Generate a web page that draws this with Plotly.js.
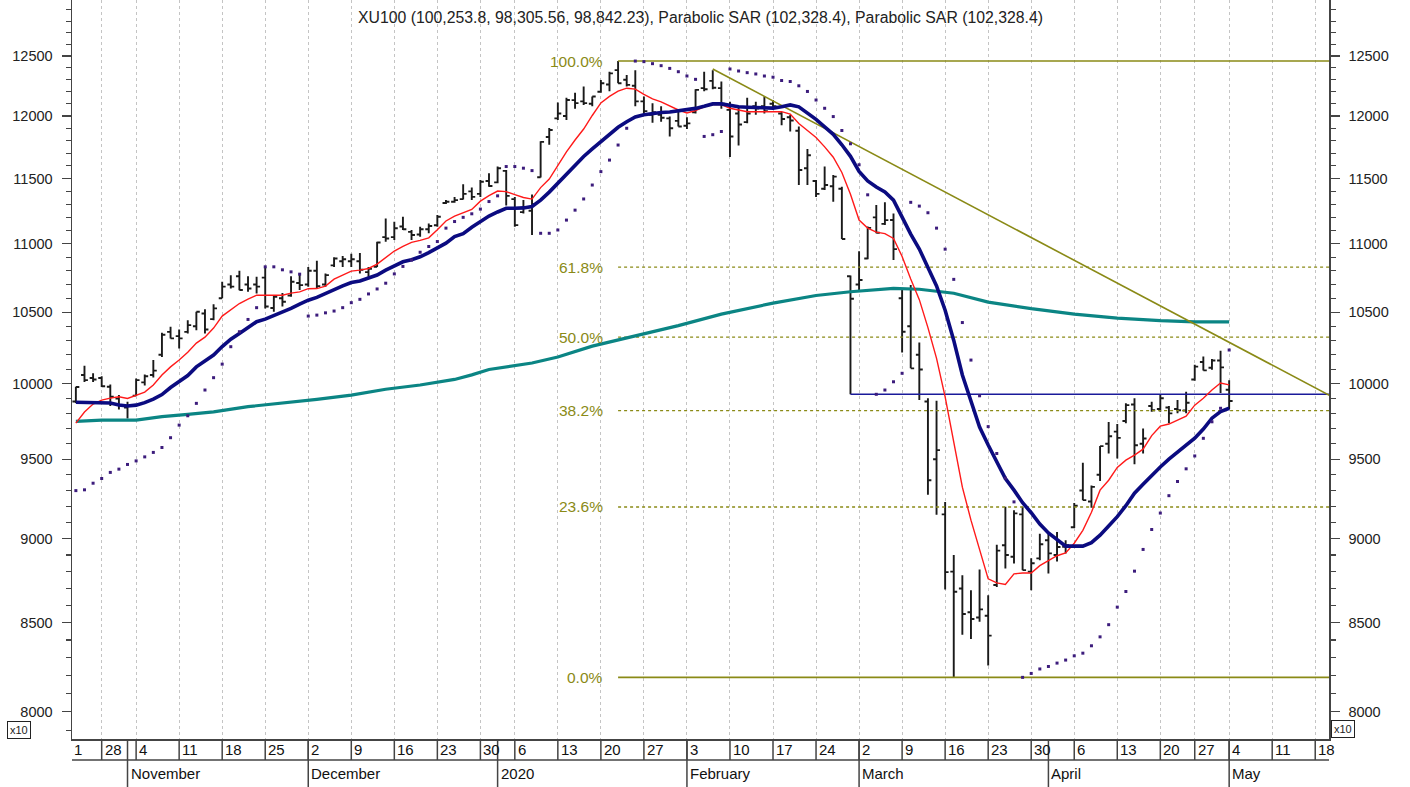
<!DOCTYPE html>
<html><head><meta charset="utf-8">
<script src="https://cdn.plot.ly/plotly-3.0.1.min.js"></script>
<style>html,body{margin:0;padding:0;background:#fff}#chart{width:1410px;height:787px}</style>
</head><body><div id="chart"></div>
<script>
// ---------- calendar ----------
const holidays = ['2019-10-29','2020-01-01','2020-04-23','2020-05-01'];
const firstBar = '2019-10-23', lastBar = '2020-05-04';

// ---------- OHLC (index value, x10) ----------
const open = [9880,10060,10040,10040,9980,9900,9840,9920,10010,10060,
10200,10360,10330,10360,10400,10490,10450,10600,10700,10760,
10700,10700,10750,10530,10600,10620,10710,10700,10800,10700,
10840,10870,10870,10870,10790,10830,11050,11050,11130,11090,
11070,11110,11140,11310,11320,11340,11400,11380,11480,11470,
11560,11340,11240,11250,11510,11830,11980,12000,12130,12120,
12100,12200,12260,12380,12300,12250,12120,12010,12010,11980,
11960,11920,12030,12230,12290,12230,12050,12020,11950,12080,
12080,12100,12020,11990,11880,11580,11480,11420,11440,11420,
10760,10700,10890,11200,11150,11180,10600,10400,10200,9880,
9500,9150,8800,8700,8560,8530,8540,8720,8960,8890,
9150,8800,8880,8990,8900,8950,9070,9300,9230,9400,
9600,9680,9750,9860,9600,9850,9830,9840,9830,9820,
10030,10150,10110,10160,9960];
const high = [9980,10124,10072,10052,9995,9924,9879,10036,10063,10163,
10353,10396,10377,10443,10503,10520,10556,10720,10768,10800,
10760,10756,10827,10622,10638,10760,10775,10827,10873,10780,
10900,10910,10925,10932,10827,11015,11192,11167,11205,11104,
11129,11154,11217,11332,11357,11456,11430,11488,11541,11594,
11567,11357,11332,11375,11795,11903,12110,12150,12191,12244,
12160,12297,12367,12457,12339,12380,12160,12105,12080,11995,
12035,11990,12220,12367,12380,12285,12117,12075,12150,12117,
12160,12131,12033,12010,11914,11734,11488,11594,11527,11436,
10766,10945,11130,11294,11315,11229,10667,10696,10286,9902,
9885,9228,8900,8779,8690,8813,8660,8962,9197,9176,
9197,8880,9030,9040,9040,8990,9221,9477,9331,9585,
9744,9730,9868,9902,9700,9879,9931,9850,9890,9946,
10130,10187,10170,10228,10025];
const low = [9870,10013,10013,9979,9850,9827,9767,9917,9988,10044,
10184,10314,10243,10348,10372,10348,10443,10600,10670,10657,
10646,10635,10527,10503,10540,10610,10660,10684,10670,10684,
10827,10827,10827,10780,10756,10827,11015,11028,11104,11028,
11053,11079,11129,11302,11312,11337,11332,11357,11436,11462,
11290,11129,11230,11066,11508,11768,11967,11967,12060,12089,
12080,12191,12203,12270,12244,12080,12010,11945,11953,11834,
11914,11895,12020,12203,12220,12060,11670,11762,11940,12010,
12020,12050,11925,11874,11450,11450,11357,11410,11320,11036,
9929,10660,10885,11079,11141,10879,10215,10106,9890,9273,
9148,8693,8189,8430,8405,8505,8256,8709,8819,8849,
8809,8690,8869,8789,8861,8910,9066,9239,9191,9360,
9537,9505,9735,9468,9537,9812,9812,9735,9801,9801,
10021,10092,10097,9937,9831];
const close = [9978,10025,10030,9984,9912,9856,9850,10025,10052,10090,
10340,10314,10314,10408,10503,10377,10527,10684,10684,10660,
10670,10684,10540,10610,10575,10720,10695,10800,10688,10768,
10890,10885,10885,10808,10815,11010,11040,11117,11110,11066,
11110,11134,11205,11320,11332,11380,11357,11475,11441,11581,
11365,11141,11280,11300,11790,11886,12020,12131,12105,12105,
12160,12270,12353,12270,12257,12120,12040,12030,11985,11900,
11914,11940,12215,12220,12233,12100,11834,11930,12020,12060,
12040,12080,11975,11963,11567,11684,11380,11449,11515,11036,
10596,10732,11120,11083,11179,10960,10361,10106,10098,9365,
9559,8797,8680,8550,8521,8577,8425,8927,8900,9156,
8809,8850,8966,8910,8949,8960,9204,9239,9323,9585,
9650,9639,9856,9591,9635,9822,9902,9801,9822,9872,
10118,10092,10160,10113,9884];

// ---------- indicators ----------
const fastAvg = [9736,9810,9863,9890,9903,9912,9901,9924,9944,9992,
10060,10116,10163,10218,10281,10323,10387,10472,10515,10562,
10593,10622,10622,10622,10622,10637,10646,10669,10670,10688,
10739,10768,10797,10805,10817,10849,10894,10946,10980,11011,
11026,11045,11106,11172,11210,11233,11260,11324,11367,11402,
11398,11375,11352,11340,11429,11496,11606,11710,11805,11894,
12004,12107,12161,12204,12229,12221,12177,12140,12115,12082,
12049,12025,12045,12074,12094,12094,12063,12049,12035,12035,
12035,12035,12035,12016,11938,11882,11826,11750,11668,11547,
11378,11179,11118,11088,11077,11040,10906,10740,10590,10390,
10175,9912,9604,9321,9114,8930,8757,8733,8723,8787,
8792,8792,8836,8866,8896,8913,8972,9051,9163,9302,
9365,9447,9494,9526,9565,9654,9716,9730,9756,9783,
9856,9902,9958,10006,9993];
const slowAvg = [9875,9875,9875,9875,9870,9857,9850,9856,9873,9897,
9927,9975,10016,10057,10116,10157,10198,10257,10309,10348,
10390,10432,10450,10475,10500,10527,10558,10586,10606,10634,
10667,10689,10714,10725,10747,10769,10805,10834,10866,10882,
10903,10934,10968,11005,11054,11076,11125,11166,11210,11241,
11269,11269,11272,11283,11332,11394,11464,11539,11611,11674,
11734,11791,11851,11908,11953,11992,12010,12021,12028,12033,
12042,12047,12062,12079,12099,12099,12087,12076,12072,12069,
12067,12064,12075,12091,12075,12025,11972,11912,11851,11767,
11675,11555,11481,11434,11395,11332,11194,11073,10961,10820,
10689,10514,10300,10060,9880,9710,9592,9481,9376,9302,
9223,9160,9090,9035,8993,8954,8954,8954,8975,9021,
9078,9136,9204,9283,9340,9397,9450,9500,9546,9585,
9637,9697,9769,9813,9835];
const sar = [9299,9304,9346,9376,9415,9436,9466,9489,9515,9544,
9576,9640,9723,9785,9868,9958,10042,10135,10256,10361,
10448,10532,10829,10829,10807,10792,10775,10472,10479,10495,
10508,10532,10568,10592,10631,10667,10709,10777,10832,10879,
10937,10980,11017,11118,11168,11200,11227,11263,11321,11365,
11594,11594,11581,11562,11079,11079,11104,11179,11255,11341,
11449,11554,11645,11765,11900,12457,12452,12435,12418,12395,
12367,12331,12303,11834,11848,11874,12390,12373,12359,12348,
12331,12321,12293,12285,12249,12202,12131,12063,11995,11882,
11775,11608,11373,9929,9958,10014,10072,11315,11286,11235,
11118,10960,10737,10426,10163,9919,9713,9537,9378,9228,
8189,8211,8236,8250,8269,8286,8310,8325,8367,8418,
8488,8590,8682,8803,8934,9056,9158,9267,9357,9438,
9521,9636,9745,9835,10233];
const longDates = ['2019-10-23','2019-10-28','2019-11-04','2019-11-07','2019-11-12','2019-11-15','2019-11-21',
'2019-11-27','2019-12-03','2019-12-09','2019-12-13','2019-12-19','2019-12-25','2019-12-27','2019-12-31',
'2020-01-08','2020-01-13','2020-01-17','2020-01-24','2020-01-31','2020-02-07','2020-02-17','2020-02-24',
'2020-02-28','2020-03-06','2020-03-11','2020-03-17','2020-03-23','2020-03-30','2020-04-06','2020-04-13',
'2020-04-20','2020-04-27','2020-05-04'];
const longAvg = [9748,9756,9756,9779,9794,9811,9846,9868,9895,9924,9963,9992,10030,10061,10098,
10143,10184,10260,10330,10404,10486,10565,10620,10647,10671,10665,10636,10572,10525,10486,10457,
10439,10431,10431];

// ---------- drawings ----------
const fibStart = '2020-01-22', lineEnd = '2020-05-20';
const fibLevels = [12457, 10827, 10323, 9819, 9196, 8189];
const fibLabels = ['100.0%','61.8%','50.0%','38.2%','23.6%','0.0%'];
const fibDotted = [false, true, true, true, true, false];
const trendDates = ['2020-02-06','2020-05-20'], trendVals = [12390, 9911];
const supportDates = ['2020-02-28','2020-05-20'], supportVals = [9929, 9929];

// ---------- axes labels ----------
const weekStarts = ['2019-10-28','2019-11-04','2019-11-11','2019-11-18','2019-11-25','2019-12-02','2019-12-09',
'2019-12-16','2019-12-23','2019-12-30','2020-01-06','2020-01-13','2020-01-20','2020-01-27','2020-02-03',
'2020-02-10','2020-02-17','2020-02-24','2020-03-02','2020-03-09','2020-03-16','2020-03-23','2020-03-30',
'2020-04-06','2020-04-13','2020-04-20','2020-04-27','2020-05-04','2020-05-11','2020-05-18'];
const weekLabels = ['28','4','11','18','25','2','9','16','23','30','6','13','20','27','3','10','17','24',
'2','9','16','23','30','6','13','20','27','4','11','18'];
const monthStarts = ['2019-11-01','2019-12-02','2020-01-02','2020-02-03','2020-03-02','2020-04-01','2020-05-04'];
const monthLabels = ['November','December','2020','February','March','April','May'];
const yTicks = [8000,8500,9000,9500,10000,10500,11000,11500,12000,12500];
const titleText = 'XU100 (100,253.8, 98,305.56, 98,842.23), Parabolic SAR (102,328.4), Parabolic SAR (102,328.4)';

// ---------- build ----------
function tradingDays(start, end){
  const out=[]; const d=new Date(start+'T00:00:00Z'); const e=new Date(end+'T00:00:00Z');
  while(d<=e){ const wd=d.getUTCDay(); const s=d.toISOString().slice(0,10);
    if(wd!==0 && wd!==6 && !holidays.includes(s)) out.push(s);
    d.setUTCDate(d.getUTCDate()+1); }
  return out;
}
const cal = tradingDays('2019-10-21','2020-05-29');
const idx = {}; cal.forEach((s,i)=>idx[s]=i);
const barDates = cal.slice(idx[firstBar], idx[lastBar]+1);
const bx = barDates.map(s=>idx[s]);
const X = arr => arr.map(s=>idx[s]);

const olive = '#8a8a16';
const traces = [];
fibLevels.forEach((v,k)=>{
  traces.push({type:'scatter', mode:'lines', x:X([fibStart,lineEnd]), y:[v,v],
    line:{color:olive, width: fibDotted[k]?1.3:1.6, dash: fibDotted[k]?'dot':'solid'}, hoverinfo:'skip'});
});
traces.push({type:'scatter', mode:'lines', x:X(longDates), y:longAvg, line:{color:'#0b8584', width:3.2}, hoverinfo:'skip'});
traces.push({type:'scatter', mode:'lines', x:X(supportDates), y:supportVals, line:{color:'#1a1a9a', width:1.5}, hoverinfo:'skip'});
traces.push({type:'scatter', mode:'lines', x:X(trendDates), y:trendVals, line:{color:olive, width:1.6}, hoverinfo:'skip'});
traces.push({type:'ohlc', x:bx, open:open, high:high, low:low, close:close, tickwidth:0.4,
  increasing:{line:{color:'#1a1a1a', width:1.9}}, decreasing:{line:{color:'#1a1a1a', width:1.9}}, hoverinfo:'skip'});
traces.push({type:'scatter', mode:'lines', x:bx, y:fastAvg, line:{color:'#ff1a1a', width:1.4}, hoverinfo:'skip'});
traces.push({type:'scatter', mode:'lines', x:bx, y:slowAvg, line:{color:'#0b0b80', width:3.6}, hoverinfo:'skip'});
traces.push({type:'scatter', mode:'markers', x:bx, y:sar, marker:{symbol:'square', size:3, color:'#3c1c7c'}, hoverinfo:'skip'});
traces.push({type:'scatter', mode:'markers', x:[0], y:[10000], yaxis:'y2', marker:{opacity:0}, hoverinfo:'skip'});

const minorTicks = [];
for(let v=7900; v<=12900; v+=100){ if(v%500!==0) minorTicks.push(v); }
const yRange = [3.895013, 4.113463];
const axColor = '#444';
const yBase = {type:'log', range:yRange, tickmode:'array', tickvals:yTicks, ticktext:yTicks.map(String),
  ticks:'outside', ticklen:9, tickwidth:1.3, tickcolor:axColor, showgrid:false, zeroline:false,
  showline:true, linecolor:axColor, linewidth:1.5, ticklabelstandoff:6,
  tickfont:{size:14.5, color:'#222'}, fixedrange:true,
  minor:{tickmode:'array', tickvals:minorTicks, ticks:'outside', ticklen:5, tickwidth:1.2, tickcolor:axColor, showgrid:false}};

const plotW = 1257, plotH = 739;
const rowH = 21/plotH, stripH = 48/plotH;
const shapes = [
  {type:'line', xref:'paper', yref:'paper', x0:0, x1:1, y0:-rowH, y1:-rowH, line:{color:axColor, width:1.5}}
];
weekStarts.forEach(d=>shapes.push({type:'line', xref:'x', yref:'paper', x0:idx[d], x1:idx[d], y0:0, y1:-rowH, line:{color:axColor, width:1.5}}));
monthStarts.forEach(d=>shapes.push({type:'line', xref:'x', yref:'paper', x0:idx[d], x1:idx[d], y0:0, y1:-stripH, line:{color:axColor, width:1.5}}));
// minor tick marks on both value axes (every 100)
minorTicks.forEach(v=>{
  shapes.push({type:'line', xref:'paper', yref:'y', x0:0, x1:-5/plotW, y0:Math.log10(v), y1:Math.log10(v), line:{color:axColor, width:1.2}});
  shapes.push({type:'line', xref:'paper', yref:'y', x0:1, x1:1+5/plotW, y0:Math.log10(v), y1:Math.log10(v), line:{color:axColor, width:1.2}});
});

const annotations = [];
weekStarts.forEach((d,k)=>annotations.push({x:idx[d], xref:'x', y:-10.5/plotH, yref:'paper', text:weekLabels[k],
  xanchor:'left', yanchor:'middle', xshift:1, showarrow:false, font:{size:15, color:'#111'}}));
annotations.push({x:1.6, xref:'x', y:-10.5/plotH, yref:'paper', text:'1', xanchor:'left', yanchor:'middle', showarrow:false, font:{size:15, color:'#111'}});
monthStarts.forEach((d,k)=>annotations.push({x:idx[d], xref:'x', y:-34.5/plotH, yref:'paper', text:monthLabels[k],
  xanchor:'left', yanchor:'middle', xshift:1, showarrow:false, font:{size:15, color:'#111'}}));
fibLevels.forEach((v,k)=>annotations.push({x:idx[fibStart], xref:'x', y:Math.log10(v), yref:'y', text:fibLabels[k],
  xanchor:'right', yanchor:'middle', xshift:-13, showarrow:false, font:{size:15.5, color:olive}}));
annotations.push({x:-53.5/plotW, xref:'paper', y:9.5/plotH, yref:'paper', text:'x10', showarrow:false,
  xanchor:'center', yanchor:'middle', font:{size:11, color:'#222'},
  bordercolor:'#222', borderwidth:1, borderpad:2, bgcolor:'#fff'});
annotations.push({x:1+14/plotW, xref:'paper', y:10/plotH, yref:'paper', text:'x10', showarrow:false,
  xanchor:'center', yanchor:'middle', font:{size:11, color:'#222'},
  bordercolor:'#222', borderwidth:1, borderpad:2, bgcolor:'#fff'});

const layout = {
  width:1410, height:787, margin:{l:72, r:81, t:0, b:48, pad:0},
  paper_bgcolor:'#fff', plot_bgcolor:'#fff', showlegend:false, dragmode:false,
  font:{family:'"Liberation Sans", Arial, sans-serif', color:'#222', size:14},
  title:{text:titleText, x:0.5, xref:'paper', xanchor:'center', y:1-17/787, yref:'container', yanchor:'middle',
    font:{size:15.8, color:'#222'}},
  xaxis:{type:'linear', range:[1.55,147.6], tickmode:'array', tickvals:X(weekStarts), showticklabels:false, ticks:'',
    showgrid:true, gridcolor:'#c4c4c4', griddash:'dot', gridwidth:1, zeroline:false,
    showline:true, linecolor:axColor, linewidth:1.5, rangeslider:{visible:false}, fixedrange:true},
  yaxis: Object.assign({}, yBase, {side:'left'}),
  yaxis2: Object.assign({}, yBase, {side:'right', overlaying:'y'}),
  shapes:shapes, annotations:annotations
};
Plotly.newPlot('chart', traces, layout, {displayModeBar:false, staticPlot:true});
</script></body></html>
